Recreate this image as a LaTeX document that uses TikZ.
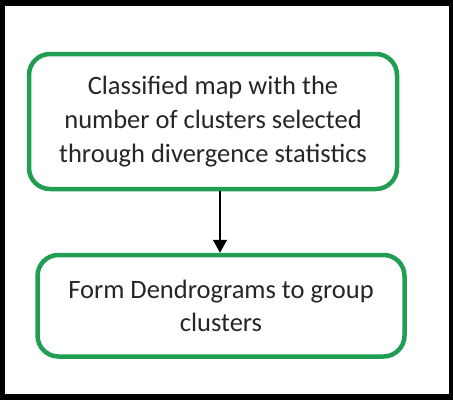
\documentclass[tikz,border=0pt]{standalone}
\usepackage{fontspec}
\setmainfont{Carlito}
\usetikzlibrary{arrows.meta}
\definecolor{boxgreen}{RGB}{34,158,84}
\definecolor{txt}{RGB}{38,38,38}
\begin{document}
\begin{tikzpicture}[x=1pt,y=-1pt,
  stepbox/.style={draw=boxgreen, line width=4.5pt, rounded corners=21pt,
    align=center, text=txt, inner sep=0pt,
    font=\fontsize{26.5}{33.5}\selectfont},
  flow/.style={draw=black, line width=1.4pt, -{Triangle[length=13pt,width=14pt]}}]
\useasboundingbox (0,0) rectangle (453,400);
\fill[black] (0,0) rectangle (453,400);
\fill[white] (5,6) rectangle (449,394);
\node[stepbox, minimum width=368pt, minimum height=135pt] (a) at (213,121.5)
  {\raisebox{-5pt}{\begin{tabular}{@{}c@{}}Classified map with the\\[0.5pt] number of clusters selected\\[0.5pt] through divergence statistics\end{tabular}}};
\node[stepbox, minimum width=367pt, minimum height=101.5pt] (b) at (221,305.75)
  {Form Dendrograms to group\\ clusters};
\draw[flow] (a.south -| 220,0) -- (b.north -| 220,0);
\end{tikzpicture}
\end{document}
